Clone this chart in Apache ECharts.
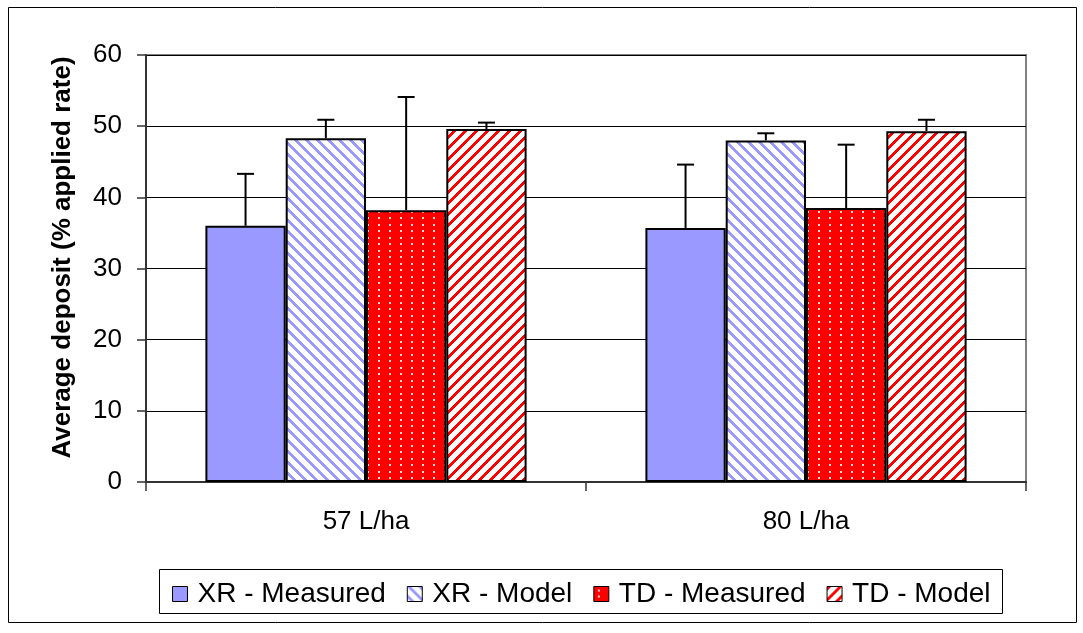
<!DOCTYPE html>
<html>
<head>
<meta charset="utf-8">
<script src="https://cdn.jsdelivr.net/npm/echarts@6/dist/echarts.min.js"></script>
<style>
html,body{margin:0;padding:0;background:#fff;}
#chart{width:1083px;height:633px;}
</style>
</head>
<body>
<div id="chart"></div>
<script>
const categories = ['57 L/ha', '80 L/ha'];
const seriesNames = ['XR - Measured', 'XR - Model', 'TD - Measured', 'TD - Model'];
const xrMeasured = [36.0, 35.7];
const xrModel = [48.3, 48.0];
const tdMeasured = [38.2, 38.5];
const tdModel = [49.6, 49.3];
const xrMeasuredErr = [7.3, 8.9];
const xrModelErr = [2.6, 1.0];
const tdMeasuredErr = [15.9, 8.9];
const tdModelErr = [0.9, 1.6];
const yTicks = { min: 0, max: 60, interval: 10 };

const values = [xrMeasured, xrModel, tdMeasured, tdModel];
const errors = [xrMeasuredErr, xrModelErr, tdMeasuredErr, tdModelErr];

const FONT = '"Liberation Sans", Arial, sans-serif';
const CAT_GAP = 0.27;

function stripeCanvas(color, dir) {
  const n = 11;
  const c = document.createElement('canvas');
  c.width = n; c.height = n;
  const ctx = c.getContext('2d');
  ctx.fillStyle = '#fff';
  ctx.fillRect(0, 0, n, n);
  ctx.fillStyle = color;
  for (let y = 0; y < n; y++) {
    for (let x = 0; x < n; x++) {
      const k = dir > 0 ? (x + y) : (x - y);
      if (((k % n) + n) % n < 4) ctx.fillRect(x, y, 1, 1);
    }
  }
  return c;
}
function dotCanvas() {
  const c = document.createElement('canvas');
  c.width = 11; c.height = 13;
  const ctx = c.getContext('2d');
  ctx.fillStyle = '#ff0000';
  ctx.fillRect(0, 0, 11, 13);
  ctx.fillStyle = '#ffd8d8';
  ctx.fillRect(4, 3, 2, 2);
  ctx.fillRect(4, 9, 2, 2);
  return c;
}

const fills = [
  '#9999ff',
  { image: stripeCanvas('#9999ff', -1), repeat: 'repeat' },
  { image: dotCanvas(), repeat: 'repeat' },
  { image: stripeCanvas('#ff0000', 1), repeat: 'repeat' }
];

const chart = echarts.init(document.getElementById('chart'), null, { renderer: 'canvas' });

const barSeries = seriesNames.map((name, i) => ({
  name: name,
  type: 'bar',
  data: values[i],
  barGap: '0%',
  barCategoryGap: (CAT_GAP * 100) + '%',
  itemStyle: { color: fills[i], borderColor: '#000', borderWidth: 2 },
  z: 2
}));

const errSeries = seriesNames.map((name, i) => ({
  name: name + ' err',
  type: 'custom',
  z: 3,
  silent: true,
  data: categories.map((c, j) => [j, values[i][j], errors[i][j]]),
  encode: { x: 0, y: 1 },
  renderItem: function (params, api) {
    const ci = api.value(0);
    const v = api.value(1);
    const e = api.value(2);
    const base = api.coord([ci, v]);
    const top = api.coord([ci, v + e]);
    const band = api.size([1, 0])[0];
    const total = band * (1 - CAT_GAP);
    const bw = total / 4;
    const x = base[0] - total / 2 + bw * (i + 0.5);
    const st = { stroke: '#000', lineWidth: 2 };
    return {
      type: 'group',
      children: [
        { type: 'line', shape: { x1: x, y1: base[1], x2: x, y2: top[1] }, style: st },
        { type: 'line', shape: { x1: x - 8.5, y1: top[1], x2: x + 8.5, y2: top[1] }, style: st }
      ]
    };
  }
}));

chart.setOption({
  animation: false,
  backgroundColor: '#fff',
  textStyle: { fontFamily: FONT },
  grid: {
    left: 146, right: 57, top: 55, bottom: 151,
    show: true, borderColor: '#808080', borderWidth: 2, backgroundColor: '#fff'
  },
  graphic: [
    { type: 'rect', shape: { x: 8.5, y: 7.5, width: 1068, height: 615 },
      style: { fill: 'none', stroke: '#000', lineWidth: 1 }, silent: true, z: 100 },
    { type: 'rect', shape: { x: 159.5, y: 569.5, width: 843, height: 44 },
      style: { fill: 'none', stroke: '#000', lineWidth: 1 }, silent: true, z: 100 }
  ],
  legend: {
    data: seriesNames,
    left: 172, top: 580,
    padding: 0,
    itemWidth: 15, itemHeight: 15,
    itemGap: 21,
    icon: 'rect',
    itemStyle: { borderColor: '#000', borderWidth: 1 },
    textStyle: { fontFamily: FONT, fontSize: 28, color: '#000', padding: [0, 0, 0, 5] }
  },
  xAxis: {
    type: 'category',
    data: categories,
    axisLine: { lineStyle: { color: '#333', width: 2 } },
    axisTick: { show: true, length: 9, lineStyle: { color: '#333', width: 1.5 } },
    axisLabel: { fontFamily: FONT, fontSize: 26, color: '#000', margin: 27 },
    splitLine: { show: false }
  },
  yAxis: {
    type: 'value',
    min: yTicks.min, max: yTicks.max, interval: yTicks.interval,
    name: 'Average deposit (% applied rate)',
    nameLocation: 'middle',
    nameGap: 70,
    nameTextStyle: { fontFamily: FONT, fontSize: 26, fontWeight: 'bold', color: '#000', padding: [0, 0, 0, 22] },
    axisLine: { show: true, lineStyle: { color: '#333', width: 2 } },
    axisTick: { show: true, length: 9, lineStyle: { color: '#333', width: 1.5 } },
    axisLabel: { fontFamily: FONT, fontSize: 26, color: '#000', margin: 24 },
    splitLine: { show: true, lineStyle: { color: '#000', width: 1 } }
  },
  series: barSeries.concat(errSeries)
});
</script>
</body>
</html>
